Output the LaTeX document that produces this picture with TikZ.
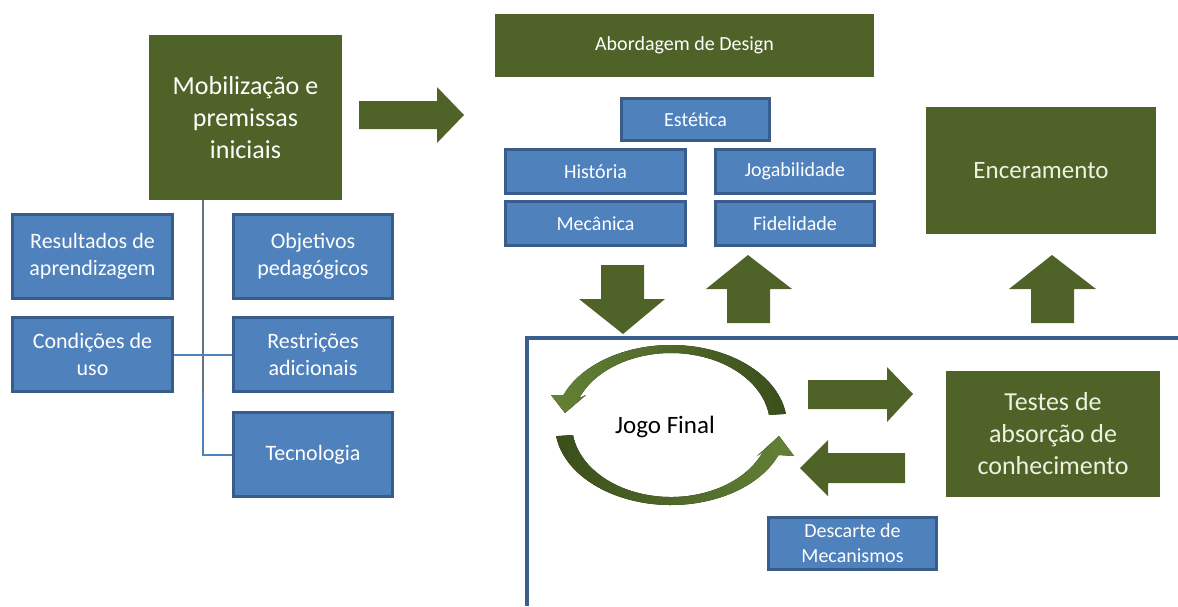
\documentclass[tikz,border=0pt]{standalone}
\usepackage{fontspec}
\setmainfont{Carlito}
\usetikzlibrary{calc}

\definecolor{olivebox}{RGB}{79,98,40}
\definecolor{bluebox}{RGB}{79,129,189}
\definecolor{blueedge}{RGB}{56,93,138}
\definecolor{framecol}{RGB}{58,95,143}
\definecolor{cycledark}{RGB}{58,78,26}
\definecolor{cyclelight}{RGB}{100,130,54}
\definecolor{creamtext}{RGB}{240,242,225}

\tikzset{
  stage/.style={fill=olivebox, text=white, align=center, inner sep=0pt},
  factor/.style={fill=bluebox, draw=blueedge, line width=3pt, text=white, align=center, inner sep=0pt},
  link/.style={draw=bluebox, line width=2pt},
}

\begin{document}
\begin{tikzpicture}[x=1pt, y=1pt]
  \useasboundingbox (0,0) rectangle (1178,-606);

  % mobilization and its factors
  \node[stage, minimum width=193pt, minimum height=165pt, font=\fontsize{26}{32}\selectfont] (mob) at (245.5,-117.5) {Mobilização e\\premissas\\iniciais};
  \node[factor, minimum width=160pt, minimum height=84pt, font=\fontsize{22}{27}\selectfont] (res) at (92.5,-256.5) {Resultados de\\aprendizagem};
  \node[factor, minimum width=159pt, minimum height=84pt, font=\fontsize{22}{27}\selectfont] (obj) at (313,-256.5) {Objetivos\\pedagógicos};
  \node[factor, minimum width=160pt, minimum height=74pt, font=\fontsize{22}{27}\selectfont] (cond) at (92.5,-354.5) {Condições de\\uso};
  \node[factor, minimum width=159pt, minimum height=74pt, font=\fontsize{22}{27}\selectfont] (restr) at (313,-354.5) {Restrições\\adicionais};
  \node[factor, minimum width=159pt, minimum height=84pt, font=\fontsize{22}{27}\selectfont] (tec) at (313,-454.5) {Tecnologia};

  \coordinate (trunk) at (203,-200);
  \coordinate (split) at (203,-393);
  \draw[gray!60!blueedge, line width=1.2pt] (trunk) -- (split);
  \draw[link] (split) |- (tec.west);
  \draw[link] (cond.east) -- (restr.west);

  % towards design
  \fill[olivebox] (359,-101) -- (437,-101) -- (437,-87) -- (464,-115) -- (437,-143) -- (437,-129) -- (359,-129) -- cycle;

  % design approach
  \node[stage, minimum width=379pt, minimum height=63pt, font=\fontsize{20}{24}\selectfont] (abord) at (684.5,-45.5) {Abordagem de Design};
  \node[factor, minimum width=148pt, minimum height=42pt, font=\fontsize{20}{24}\selectfont] (est) at (695.5,-119.5) {Estética};
  \node[factor, minimum width=180pt, minimum height=44pt, font=\fontsize{20}{24}\selectfont] (hist) at (595.5,-171.5) {História};
  \node[factor, minimum width=159pt, minimum height=44pt, font=\fontsize{20}{24}\selectfont] (jog) at (795,-171.5) {Jogabilidade};
  \node[factor, minimum width=180pt, minimum height=44pt, font=\fontsize{20}{24}\selectfont] (mec) at (595.5,-223.5) {Mecânica};
  \node[factor, minimum width=159pt, minimum height=44pt, font=\fontsize{20}{24}\selectfont] (fid) at (795,-223.5) {Fidelidade};

  \fill[olivebox] (601,-265) -- (644,-265) -- (644,-299) -- (665,-299) -- (623,-334) -- (579,-299) -- (601,-299) -- cycle;
  \fill[olivebox] (727,-323) -- (770,-323) -- (770,-289) -- (792,-289) -- (748,-255) -- (706,-289) -- (727,-289) -- cycle;

  % closing
  \node[stage, minimum width=230pt, minimum height=127pt, text=creamtext, font=\fontsize{25}{30}\selectfont] (enc) at (1041,-170.5) {Enceramento};
  \fill[olivebox] (1031,-323) -- (1074,-323) -- (1074,-289) -- (1096,-289) -- (1052,-255) -- (1009,-289) -- (1031,-289) -- cycle;

  % iteration area
  \draw[framecol, line width=3.5pt] (527,-606) |- (1178,-338);

  \begin{scope}[shift={(671,-425)}]
    \fill[left color=cyclelight, right color=cycledark]
      (8:116 and 80) arc[start angle=8, end angle=158, x radius=116, y radius=80]
      -- (-120,30) -- (-106,12) -- (-85,30)
      -- (158:99 and 72) arc[start angle=158, end angle=8, x radius=99, y radius=72] -- cycle;
    \fill[left color=cycledark, right color=cyclelight]
      (188:116 and 80) arc[start angle=188, end angle=338, x radius=116, y radius=80]
      -- (123,-31) -- (108,-11) -- (86,-31)
      -- (338:99 and 72) arc[start angle=338, end angle=188, x radius=99, y radius=72] -- cycle;
    \node[font=\fontsize{25}{30}\selectfont] (jogo) at (-6,-2) {Jogo Final};
  \end{scope}

  \fill[olivebox] (808,-380) -- (887,-380) -- (887,-367) -- (913,-394) -- (887,-422) -- (887,-409) -- (808,-409) -- cycle;
  \fill[olivebox] (905,-453) -- (828,-453) -- (828,-440) -- (800,-468) -- (828,-496) -- (828,-483) -- (905,-483) -- cycle;

  \node[stage, minimum width=214pt, minimum height=126pt, text=creamtext, font=\fontsize{26}{32}\selectfont] (test) at (1053,-434) {Testes de\\absorção de\\conhecimento};
  \node[factor, minimum width=168pt, minimum height=52pt, font=\fontsize{20}{25}\selectfont] (desc) at (852.5,-543.5) {Descarte de\\Mecanismos};
\end{tikzpicture}
\end{document}
